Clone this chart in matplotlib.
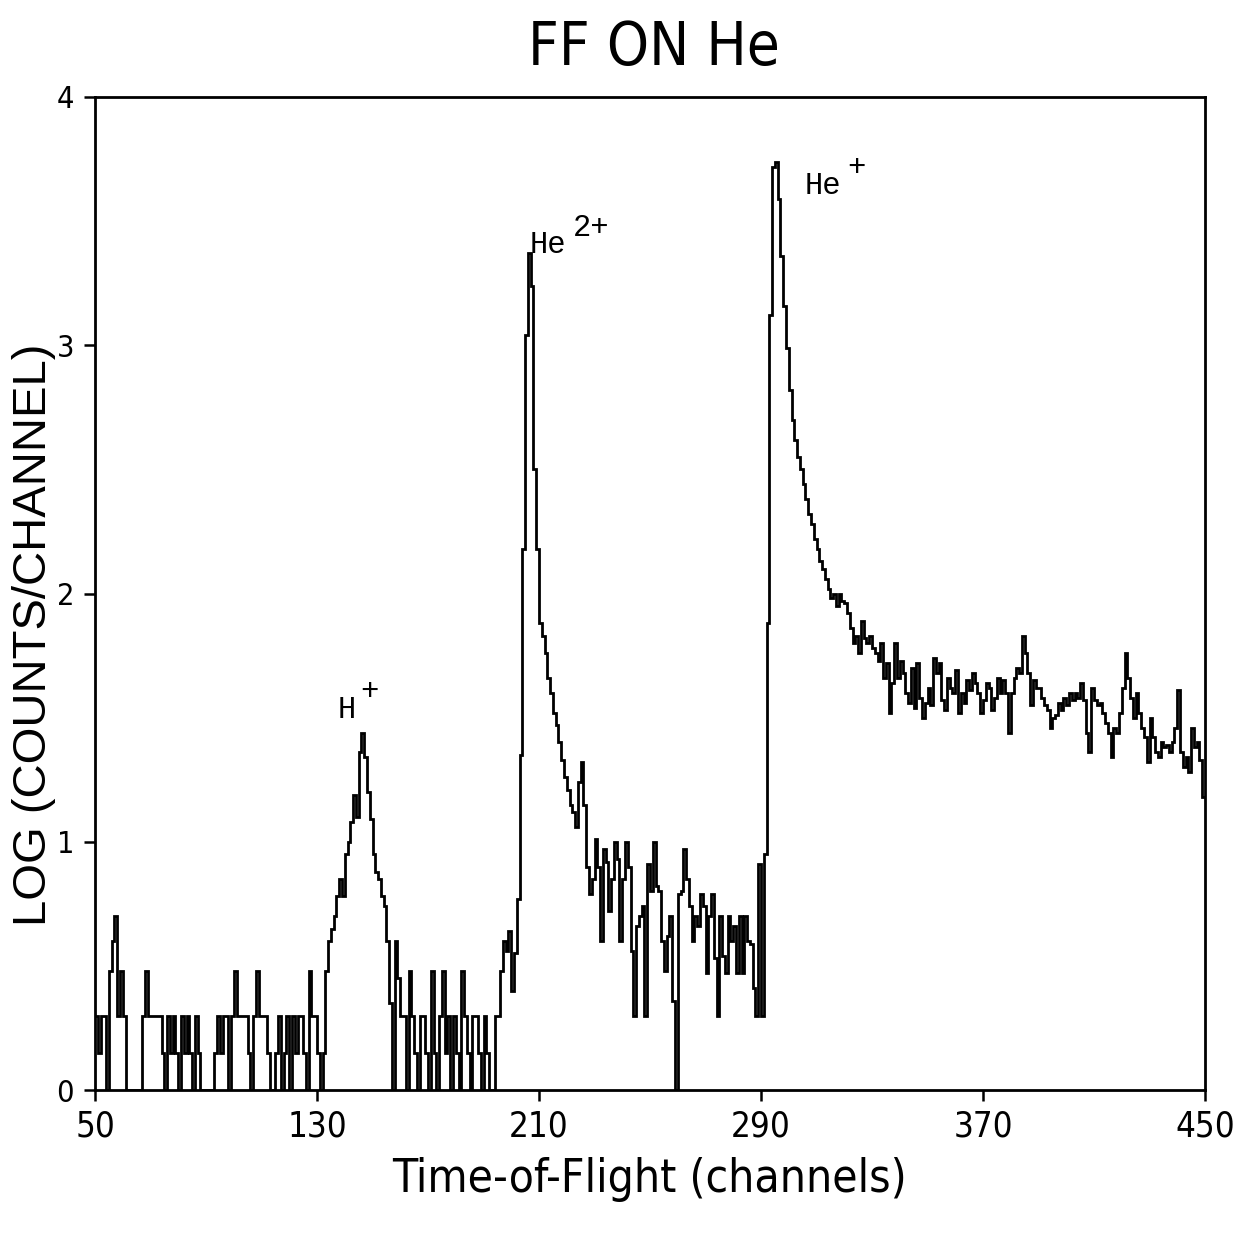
import matplotlib
matplotlib.use("Agg")
import matplotlib.pyplot as plt
from matplotlib import font_manager
import numpy as np

# log10(counts/channel) for channels 50..449
ch_start = 50
ch_end = 450
log_counts = (
    [0.30, 0.15, 0.30, 0.30, 0.00, 0.48, 0.60, 0.70, 0.30, 0.48]    # 50
    + [0.30, 0.00, 0.00, 0.00, 0.00, 0.00, 0.00, 0.30, 0.48, 0.30]  # 60
    + [0.30, 0.30, 0.30, 0.30, 0.15, 0.00, 0.30, 0.15, 0.30, 0.15]  # 70
    + [0.00, 0.30, 0.15, 0.30, 0.15, 0.00, 0.30, 0.15, 0.00, 0.00]  # 80
    + [0.00, 0.00, 0.00, 0.15, 0.30, 0.15, 0.30, 0.30, 0.00, 0.30]  # 90
    + [0.48, 0.30, 0.30, 0.30, 0.30, 0.15, 0.00, 0.30, 0.48, 0.30]  # 100
    + [0.30, 0.30, 0.15, 0.00, 0.00, 0.15, 0.30, 0.00, 0.15, 0.30]  # 110
    + [0.00, 0.30, 0.15, 0.30, 0.30, 0.15, 0.00, 0.48, 0.30, 0.30]  # 120
    + [0.15, 0.00, 0.15, 0.48, 0.60, 0.65, 0.70, 0.78, 0.85, 0.78]  # 130
    + [0.95, 1.00, 1.08, 1.19, 1.10, 1.36, 1.44, 1.34, 1.20, 1.09]  # 140
    + [0.95, 0.88, 0.85, 0.78, 0.74, 0.60, 0.35, 0.00, 0.60, 0.45]  # 150
    + [0.30, 0.30, 0.00, 0.48, 0.30, 0.15, 0.00, 0.30, 0.30, 0.15]  # 160
    + [0.00, 0.48, 0.15, 0.00, 0.30, 0.48, 0.15, 0.30, 0.00, 0.30]  # 170
    + [0.15, 0.00, 0.48, 0.30, 0.15, 0.00, 0.30, 0.30, 0.15, 0.00]  # 180
    + [0.30, 0.15, 0.00, 0.00, 0.30, 0.30, 0.48, 0.60, 0.56, 0.64]  # 190
    + [0.40, 0.55, 0.77, 1.35, 2.18, 3.04, 3.37, 3.24, 2.50, 2.18]  # 200
    + [1.88, 1.83, 1.76, 1.66, 1.60, 1.52, 1.47, 1.40, 1.33, 1.26]  # 210
    + [1.21, 1.15, 1.12, 1.06, 1.24, 1.32, 1.15, 0.90, 0.79, 0.85]  # 220
    + [1.01, 0.90, 0.60, 0.97, 0.92, 0.72, 0.85, 1.00, 0.93, 0.60]  # 230
    + [0.85, 1.00, 0.90, 0.56, 0.30, 0.66, 0.70, 0.74, 0.30, 0.91]  # 240
    + [0.80, 1.00, 0.82, 0.80, 0.60, 0.48, 0.62, 0.70, 0.36, 0.00]  # 250
    + [0.79, 0.80, 0.97, 0.85, 0.74, 0.60, 0.70, 0.66, 0.79, 0.74]  # 260
    + [0.47, 0.70, 0.79, 0.53, 0.30, 0.70, 0.54, 0.47, 0.70, 0.60]  # 270
    + [0.66, 0.47, 0.70, 0.47, 0.70, 0.60, 0.59, 0.41, 0.30, 0.91]  # 280
    + [0.30, 0.95, 1.88, 3.12, 3.72, 3.74, 3.59, 3.36, 3.16, 2.99]  # 290
    + [2.82, 2.70, 2.62, 2.55, 2.50, 2.44, 2.38, 2.32, 2.28, 2.22]  # 300
    + [2.18, 2.13, 2.10, 2.06, 2.02, 1.98, 2.00, 1.95, 2.00, 1.97]  # 310
    + [1.96, 1.92, 1.86, 1.80, 1.83, 1.76, 1.89, 1.82, 1.80, 1.83]  # 320
    + [1.78, 1.76, 1.73, 1.80, 1.66, 1.72, 1.52, 1.64, 1.80, 1.66]  # 330
    + [1.73, 1.68, 1.60, 1.56, 1.70, 1.54, 1.72, 1.58, 1.50, 1.56]  # 340
    + [1.62, 1.55, 1.74, 1.68, 1.72, 1.57, 1.53, 1.66, 1.62, 1.60]  # 350
    + [1.69, 1.52, 1.60, 1.56, 1.65, 1.61, 1.68, 1.64, 1.60, 1.52]  # 360
    + [1.57, 1.64, 1.62, 1.53, 1.58, 1.66, 1.60, 1.65, 1.60, 1.44]  # 370
    + [1.60, 1.66, 1.70, 1.68, 1.83, 1.76, 1.68, 1.55, 1.65, 1.62]  # 380
    + [1.62, 1.58, 1.55, 1.53, 1.46, 1.50, 1.51, 1.56, 1.53, 1.58]  # 390
    + [1.55, 1.60, 1.57, 1.60, 1.58, 1.64, 1.57, 1.44, 1.36, 1.62]  # 400
    + [1.57, 1.55, 1.56, 1.52, 1.48, 1.44, 1.34, 1.46, 1.44, 1.52]  # 410
    + [1.62, 1.76, 1.66, 1.58, 1.50, 1.60, 1.52, 1.46, 1.42, 1.32]  # 420
    + [1.50, 1.42, 1.36, 1.34, 1.40, 1.38, 1.39, 1.36, 1.40, 1.46]  # 430
    + [1.61, 1.36, 1.30, 1.34, 1.28, 1.46, 1.38, 1.40, 1.33, 1.18]  # 440
)

x_ticks = [50, 130, 210, 290, 370, 450]
y_ticks = [0, 1, 2, 3, 4]

peak_labels = [
    # (text, superscript, x, y, sup_x, sup_y)
    ("H", "+", 137.6, 1.50, 145.5, 1.57),
    ("He", "2+", 206.8, 3.37, 222.3, 3.44),
    ("He", "+", 305.9, 3.61, 321.0, 3.68),
]

# pick a condensed face if one is installed
cond_fp = None
for f in font_manager.fontManager.ttflist:
    if f.stretch in ("condensed", 300, "semi-condensed") or "Condensed" in f.name or "Narrow" in f.name:
        if "Bold" not in f.fname and "Oblique" not in f.fname and "Italic" not in f.fname:
            cond_fp = f.fname
            break


def cfont(size):
    if cond_fp is not None:
        return font_manager.FontProperties(fname=cond_fp, size=size)
    return font_manager.FontProperties(family="DejaVu Sans", size=size)


fig = plt.figure(figsize=(12.36, 12.37), dpi=100)
ax = fig.add_axes([95 / 1236, 147 / 1237, 1110 / 1236, 993 / 1237])

edges = np.arange(ch_start, ch_end + 1)
ax.stairs(log_counts, edges, baseline=None, color="black", linewidth=2.0)

ax.set_xlim(ch_start, ch_end)
ax.set_ylim(0, 4)
ax.tick_params(axis="x", direction="out", length=8, width=1.8, pad=6)
ax.tick_params(axis="y", direction="out", length=8, width=1.8, pad=7)
ax.set_xticks(x_ticks)
ax.set_yticks(y_ticks)
ax.set_xticklabels([str(t) for t in x_ticks], fontproperties=cfont(25))
ax.set_yticklabels([str(t) for t in y_ticks], fontproperties=cfont(22))
for s in ax.spines.values():
    s.set_linewidth(2.0)

ax.set_xlabel("Time-of-Flight (channels)", fontproperties=cfont(33), labelpad=10)
fig.text(34 / 1236, 1 - 635 / 1237, "LOG (COUNTS/CHANNEL)", rotation=90,
         fontsize=34, family=["Liberation Sans", "DejaVu Sans"],
         ha="center", va="center")
fig.text(654 / 1236, 1 - 48 / 1237, "FF ON He", fontproperties=cfont(43),
         ha="center", va="center")

mono = ["Liberation Mono", "DejaVu Sans Mono"]
for txt, sup, x, y, sx, sy in peak_labels:
    ax.text(x, y, txt, fontsize=22, family=mono, ha="left", va="baseline")
    ax.text(sx, sy, sup, fontsize=22, family=mono, ha="left", va="baseline")

fig.savefig("out.png", dpi=100, facecolor="white")
